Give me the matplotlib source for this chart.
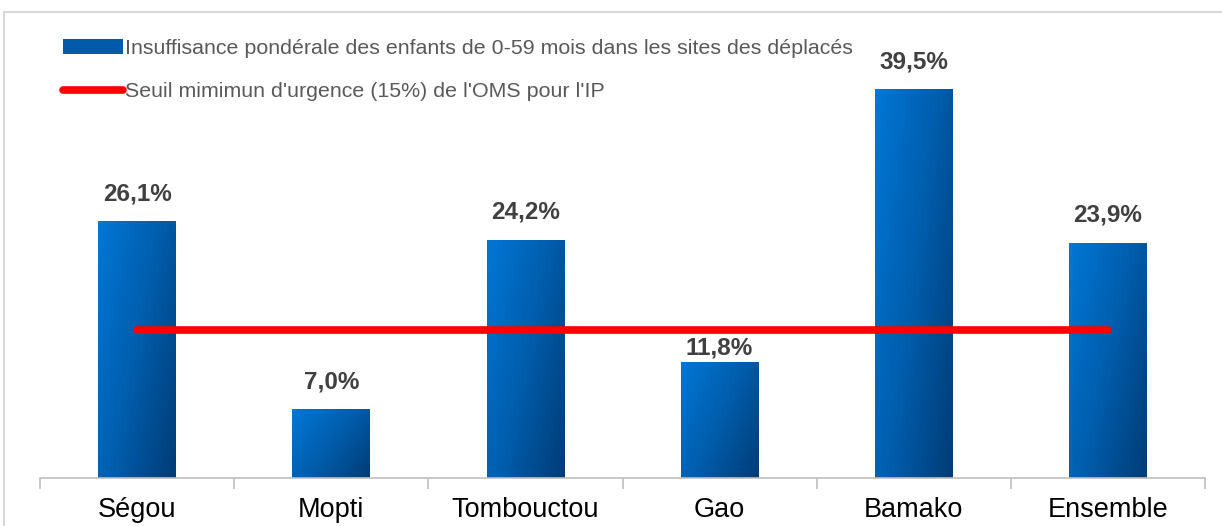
import matplotlib.pyplot as plt
import numpy as np
from matplotlib.colors import LinearSegmentedColormap
from matplotlib.lines import Line2D
from matplotlib.patches import Patch, Rectangle

plt.rcParams['font.family'] = ['Liberation Sans', 'DejaVu Sans']

regions = ['Ségou', 'Mopti', 'Tombouctou', 'Gao', 'Bamako', 'Ensemble']
insuffisance = [26.1, 7.0, 24.2, 11.8, 39.5, 23.9]
seuil_oms = [15, 15, 15, 15, 15, 15]
bar_label = "Insuffisance pondérale des enfants de 0-59 mois dans les sites des déplacés"
line_label = "Seuil mimimun d'urgence (15%) de l'OMS pour l'IP"

fig = plt.figure(figsize=(12.22, 5.26), dpi=100)
# outer chart frame
fig.patches.append(Rectangle((4 / 1222, -0.1), 1.2, 1 - 12 / 526 + 0.1, transform=fig.transFigure,
                             fill=False, edgecolor='#d9d9d9', linewidth=1.5))
ax = fig.add_axes([40 / 1222, 48 / 526, 1165 / 1222, 443 / 526])

x = np.arange(len(regions))
width = 0.40
grad = LinearSegmentedColormap.from_list('blues', ['#0077d6', '#005dac', '#003c76'])
gx, gy = np.meshgrid(np.linspace(0, 1, 60), np.linspace(0, 1, 200))
img = 0.6 * gx + 0.4 * gy

bars = ax.bar(x, insuffisance, width=width, color='none', edgecolor='none', zorder=2)
for i, (b, v) in enumerate(zip(bars, insuffisance)):
    x0 = b.get_x()
    im = ax.imshow(img, cmap=grad, aspect='auto', zorder=2,
                   extent=[x0, x0 + width, 0, v], origin='upper')
    im.set_clip_path(b)
    # Gao label pushed down under the threshold line, as in the original
    gap = 2 if regions[i] == 'Gao' else 16
    ax.annotate(f"{v:.1f}%".replace('.', ','), (b.get_x() + width / 2, v),
                xytext=(0, gap * 0.72), textcoords='offset points',
                ha='center', va='bottom', fontsize=17.5, fontweight='bold', color='#404040')

ax.plot(x, seuil_oms, color='#ff0000', linewidth=5.5, solid_capstyle='round', zorder=3)

ax.set_xlim(-0.5, len(regions) - 0.5)
ax.set_ylim(0, 45)
ax.set_yticks([])
ax.set_xticks(x)
ax.set_xticklabels(regions, fontsize=19.5, color='black')
ax.set_xticks(np.arange(-0.5, len(regions)), minor=True)
ax.tick_params(axis='x', which='major', length=0, pad=14)
ax.tick_params(axis='x', which='minor', length=8, color='#bfbfbf', width=1.2)
for s in ['top', 'right', 'left']:
    ax.spines[s].set_visible(False)
ax.spines['bottom'].set_color('#bfbfbf')
ax.spines['bottom'].set_linewidth(1.2)
ax.patch.set_alpha(0)

handles = [Patch(facecolor='#005baa', edgecolor='none'),
           Line2D([0], [0], color='#ff0000', linewidth=5.5, solid_capstyle='round')]
ax.legend(handles, [bar_label, line_label], loc='upper left',
          bbox_to_anchor=(8 / 1165, 1.024), frameon=False, fontsize=15.4,
          labelcolor='#595959', handlelength=2.8, handletextpad=0.1,
          labelspacing=1.12, handleheight=0.7, borderaxespad=0.3)

fig.savefig('out.png', dpi=100)
